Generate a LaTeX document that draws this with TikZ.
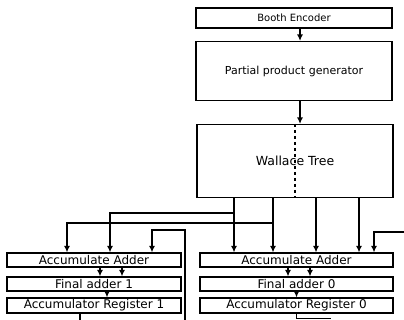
\documentclass[tikz,border=0pt]{standalone}
\usepackage{fontspec}
\setmainfont{DejaVu Sans}
\usetikzlibrary{arrows.meta}

\begin{document}
\begin{tikzpicture}[x=1pt, y=-1pt,
    box/.style={rectangle, draw, line width=1.1pt, inner sep=0pt, align=center},
    lane/.style={box, minimum height=14, font=\fontsize{12}{12}\selectfont},
    wire/.style={line width=1.3pt},
    arr/.style={wire, -{Latex[length=6.5pt,width=6pt]}}]

    \useasboundingbox (0,0) rectangle (404,320);

    % multiplier core
    \node[box, minimum width=196, minimum height=20, font=\fontsize{10}{10}\selectfont] (booth) at (294,18) {Booth Encoder};
    \node[box, minimum width=196, minimum height=59, font=\fontsize{11}{11}\selectfont] (ppg) at (294,71) {Partial product generator};
    \node[box, minimum width=196, minimum height=73, font=\fontsize{12.5}{12.5}\selectfont] (wallace) at (295,161) {Wallace Tree};

    % two accumulator lanes
    \node[lane, minimum width=174] (accL) at (94,260) {Accumulate Adder};
    \node[lane, minimum width=174] (finL) at (94,284) {Final adder 1};
    \node[lane, minimum width=174, minimum height=15] (regL) at (94,305.5) {Accumulator Register 1};
    \node[lane, minimum width=193] (accR) at (296.5,260) {Accumulate Adder};
    \node[lane, minimum width=193] (finR) at (296.5,284) {Final adder 0};
    \node[lane, minimum width=193, minimum height=15] (regR) at (296.5,305.5) {Accumulator Register 0};

    \draw[arr] ([xshift=6pt]booth.south) -- ([xshift=6pt]ppg.north);
    \draw[arr] ([xshift=6pt]ppg.south) -- ([xshift=5pt]wallace.north);
    \draw[wire, dashed] (wallace.north) -- (wallace.south);

    % taps under the tree
    \coordinate (t1) at (234,213);
    \coordinate (t2) at (273,223);
    \coordinate (t3) at (316,0);
    \coordinate (t4) at (359,0);
    \coordinate (l1) at (110,0);
    \coordinate (l2) at (67,0);
    \coordinate (l3) at (152,230);
    \coordinate (r5) at (374,0);
    \coordinate (fbL) at (185,321);
    \coordinate (fbR) at (405,232);

    \draw[arr] (wallace.south -| t1) -- (accR.north -| t1);
    \draw[arr] (wallace.south -| t2) -- (accR.north -| t2);
    \draw[arr] (wallace.south -| t3) -- (accR.north -| t3);
    \draw[arr] (wallace.south -| t4) -- (accR.north -| t4);
    \draw[arr] (t1) -| (accL.north -| l1);
    \draw[arr] (t2) -| (accL.north -| l2);

    % feedback from the registers
    \draw[arr] (fbL) |- (l3) -- (accL.north -| l3);
    \draw[arr] (fbR) -| (accR.north -| r5);

    \draw[arr] ([xshift=6pt]accL.south) -- ([xshift=6pt]finL.north);
    \draw[arr] ([xshift=28pt]accL.south) -- ([xshift=28pt]finL.north);
    \draw[arr] ([xshift=13pt]finL.south) -- ([xshift=13pt]regL.north);
    \draw[arr] ([xshift=-8.5pt]accR.south) -- ([xshift=-8.5pt]finR.north);
    \draw[arr] ([xshift=13.5pt]accR.south) -- ([xshift=13.5pt]finR.north);
    \draw[arr] (finR.south) -- (regR.north);

    \draw[wire] ([xshift=-14pt]regL.south) -- ++(0,8);
    \draw[wire] (regR.south) -- ++(0,5) -- ++(34,0);
\end{tikzpicture}
\end{document}
